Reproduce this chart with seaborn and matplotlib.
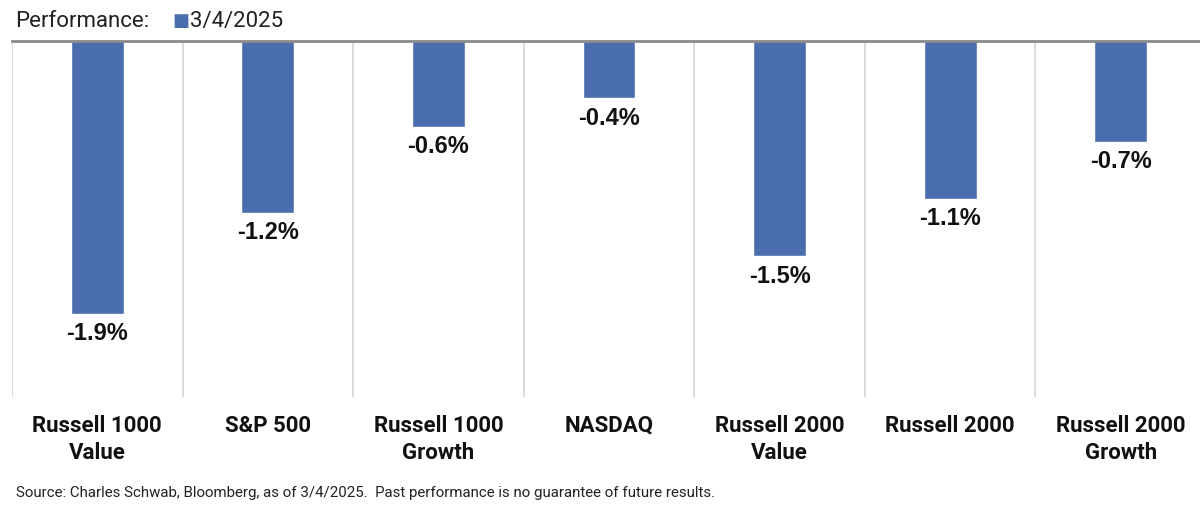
import seaborn as sns
import matplotlib.pyplot as plt
import pandas as pd

# data
categories = ['Russell 1000\nValue', 'S&P 500', 'Russell 1000\nGrowth', 'NASDAQ',
              'Russell 2000\nValue', 'Russell 2000', 'Russell 2000\nGrowth']
returns = [-1.9, -1.2, -0.6, -0.4, -1.5, -1.1, -0.7]
series_name = '3/4/2025'

df = pd.DataFrame({'index': categories, 'return': returns})

sns.set_style('white')
plt.rcParams['font.family'] = ['Roboto', 'DejaVu Sans']

fig = plt.figure(figsize=(12, 5.1), dpi=100)
ax = fig.add_axes([0.01, 0.2196, 0.995, 0.698])

bar_color = '#4a6ead'
sns.barplot(data=df, x='index', y='return', color=bar_color, width=0.31,
            saturation=1, ax=ax)

ax.set_ylim(-2.48, 0)
ax.set_xlim(-0.5, 6.5)

# value labels under each bar
for i, v in enumerate(returns):
    ax.text(i, v - 0.05, f'{v:.1f}%', ha='center', va='top', fontsize=17,
            fontweight='bold', family=['Liberation Sans', 'DejaVu Sans'], color='#111111')

# vertical separators between categories
for x in [i - 0.5 for i in range(len(categories))]:
    ax.axvline(x, color='#d4d4d4', lw=1.2, zorder=0)

for s in ['left', 'right', 'bottom']:
    ax.spines[s].set_visible(False)
ax.spines['top'].set_visible(True)
ax.spines['top'].set_color('#8a8a8a')
ax.spines['top'].set_linewidth(2)

ax.set_yticks([])
ax.set_xticks(range(len(categories)))
ax.set_xticklabels(categories, fontsize=16, fontweight='bold', color='#111111',
                   linespacing=1.3)
ax.tick_params(axis='x', length=0, pad=12)
ax.set_xlabel('')
ax.set_ylabel('')

# legend-like header
fig.text(0.013, 0.958, 'Performance:', fontsize=16, color='#222222', va='center')
fig.text(0.144, 0.958, '\u25a0', fontsize=13, color=bar_color, va='center')
fig.text(0.158, 0.958, series_name, fontsize=16, color='#222222', va='center')

fig.text(0.013, 0.033, 'Source: Charles Schwab, Bloomberg, as of 3/4/2025.  Past performance is no guarantee of future results.',
         fontsize=10.8, color='#222222', va='center')

fig.savefig('out.png', dpi=100)
